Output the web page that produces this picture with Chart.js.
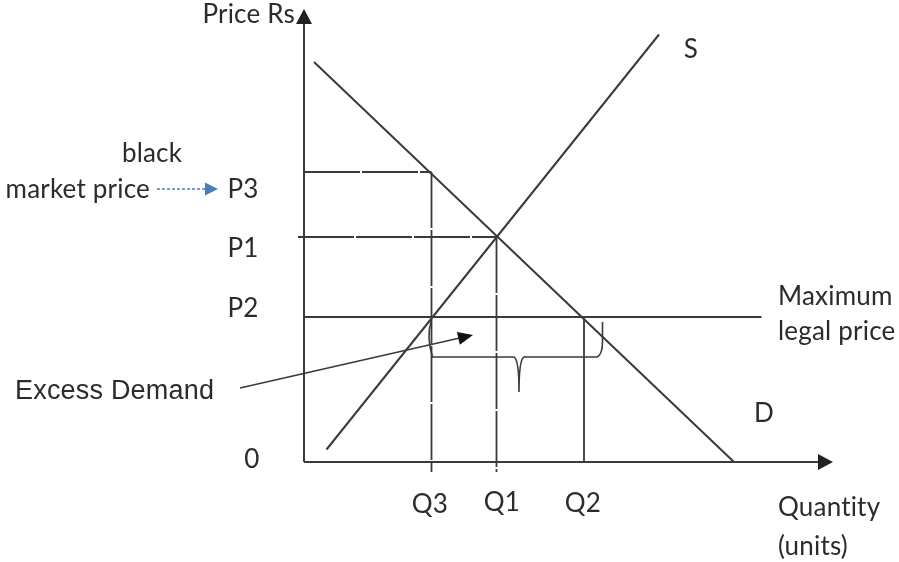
<!DOCTYPE html>
<html>
<head>
<meta charset="utf-8">
<script src="https://cdn.jsdelivr.net/npm/chart.js@4.4.0/dist/chart.umd.min.js"></script>
<style>
    html, body { margin: 0; padding: 0; background: #fff; }
</style>
</head>
<body>
<canvas id="chart" width="899" height="562"></canvas>
<script>
// Values (quantity and price in the same arbitrary units)
const demandQ = [2, 86];
const demandP = [80, 0];
const supplyQ = [4.5, 71];
const supplyP = [2.5, 85.5];
const quantityLevels = [25.5, 38.5, 56];   // Q3, Q1, Q2
const quantityTicks = ['Q3', 'Q1', 'Q2'];
const priceLevels = [58, 45, 29];          // P3, P1, P2
const priceTicks = ['P3', 'P1', 'P2'];
const ceilingEnd = 91.5;                   // maximum legal price line runs to here
const axisMax = { x: 105.8, y: 90.6 };

const [q3, q1, q2] = quantityLevels;
const [p3, p1, p2] = priceLevels;

const LINE = '#3a3a3a';
const TEXT = '#2b2b2b';
const BLUE = '#4a7ebb';
const FONT = '26px Lato';

const pts = (xs, ys) => xs.map((x, i) => ({ x: x, y: ys[i] }));

function lineSet(data, width, dash) {
    return {
        data: data,
        borderColor: LINE,
        borderWidth: width,
        borderDash: dash || [],
        pointRadius: 0,
        fill: false,
        tension: 0
    };
}

// Arrowheads, brace, pointer arrows and all labels
const notesPlugin = {
    id: 'notes',
    afterDatasetsDraw(chart) {
        const { ctx, scales: { x, y } } = chart;
        const px = v => x.getPixelForValue(v);
        const py = v => y.getPixelForValue(v);

        const head = (x0, y0, x1, y1, len, half, color) => {
            const a = Math.atan2(y1 - y0, x1 - x0);
            ctx.save();
            ctx.fillStyle = color;
            ctx.beginPath();
            ctx.moveTo(x1, y1);
            ctx.lineTo(x1 - len * Math.cos(a) + half * Math.sin(a), y1 - len * Math.sin(a) - half * Math.cos(a));
            ctx.lineTo(x1 - len * Math.cos(a) - half * Math.sin(a), y1 - len * Math.sin(a) + half * Math.cos(a));
            ctx.closePath();
            ctx.fill();
            ctx.restore();
        };

        // axis arrowheads
        head(px(0), py(0), px(0), py(axisMax.y), 15, 8, '#222');
        head(px(0), py(0), px(axisMax.x), py(0), 15, 8, '#222');

        // brace under the ceiling between Q3 and Q2
        ctx.save();
        ctx.strokeStyle = LINE;
        ctx.lineWidth = 1.6;
        ctx.beginPath();
        ctx.moveTo(px(q3), py(28.4));
        ctx.quadraticCurveTo(px(24.4), py(25), px(q3 + 0.2), py(21));
        ctx.lineTo(px(42), py(21));
        ctx.quadraticCurveTo(px(43), py(20.5), px(43), py(14));
        ctx.quadraticCurveTo(px(43), py(20.5), px(44), py(21));
        ctx.lineTo(px(58.6), py(21));
        ctx.quadraticCurveTo(px(59.7), py(21.5), px(59.7), py(24));
        ctx.lineTo(px(59.7), py(28));
        ctx.stroke();

        // excess demand pointer
        const ex0 = px(-12.8), ey0 = py(14.8), ex1 = px(33.8), ey1 = py(25.4);
        ctx.lineWidth = 1.6;
        ctx.beginPath();
        ctx.moveTo(ex0, ey0);
        ctx.lineTo(ex1 - 10, ey1 + 2.3);
        ctx.stroke();
        head(ex0, ey0, ex1, ey1, 15, 6.5, '#111');

        // blue dashed pointer to P3
        const bx0 = px(-29.4), bx1 = px(-17.2), by = py(54.6);
        ctx.strokeStyle = BLUE;
        ctx.lineWidth = 1.5;
        ctx.setLineDash([3, 2]);
        ctx.beginPath();
        ctx.moveTo(bx0, by);
        ctx.lineTo(bx1 - 10, by);
        ctx.stroke();
        ctx.setLineDash([]);
        head(bx0, by, bx1, by, 13, 6.5, BLUE);
        ctx.restore();

        // labels
        const text = (s, vx, vy, align, font) => {
            ctx.save();
            ctx.font = font || FONT;
            ctx.fillStyle = TEXT;
            ctx.textAlign = align;
            ctx.textBaseline = 'middle';
            ctx.letterSpacing = '0.2px';   // keeps Lato from joining "ti"
            ctx.fillText(s, px(vx), py(vy));
            ctx.restore();
        };
        text('Price Rs', -1.8, 89.4, 'right');
        text('black', -30.4, 61.6, 'center');
        text('market price', -30.8, 54.4, 'right');
        const priceLabelY = [54.4, 42.6, 30.6];
        priceTicks.forEach((t, i) => text(t, -15.3, priceLabelY[i], 'left'));
        text('0', -10.4, 0.4, 'center');
        const qLabelY = [-8.6, -8.2, -8.4];
        const qLabelX = [25.2, 39.6, 55.8];
        quantityTicks.forEach((t, i) => text(t, qLabelX[i], qLabelY[i], 'center'));
        text('S', 77.4, 82.4, 'center');
        text('D', 92, 9.6, 'center');
        text('Maximum', 94.8, 33, 'left');
        text('legal price', 94.8, 26, 'left');
        text('Quantity', 94.8, -9.2, 'left');
        text('(units)', 94.8, -17, 'left');
        text('Excess Demand', -57.8, 14, 'left', '27px "Liberation Sans"');
    }
};

const guideDash = [56, 2];

new Chart(document.getElementById('chart'), {
    type: 'scatter',
    data: {
        datasets: [
            lineSet(pts(demandQ, demandP), 2),
            lineSet(pts(supplyQ, supplyP), 2),
            lineSet([{ x: 0, y: p3 }, { x: q3, y: p3 }], 1.8, guideDash),
            lineSet([{ x: -1.2, y: p1 }, { x: q1, y: p1 }], 1.8, guideDash),
            lineSet([{ x: q3, y: p3 }, { x: q3, y: -2 }], 1.8, guideDash),
            lineSet([{ x: q1, y: p1 }, { x: q1, y: -2 }], 1.8, guideDash),
            lineSet([{ x: q2, y: p2 }, { x: q2, y: 0 }], 1.8),
            lineSet([{ x: 0, y: p2 }, { x: ceilingEnd, y: p2 }], 2),
            lineSet([{ x: 0, y: 0 }, { x: 0, y: axisMax.y - 3 }], 2),
            lineSet([{ x: 0, y: 0 }, { x: axisMax.x - 3, y: 0 }], 2)
        ]
    },
    options: {
        responsive: false,
        devicePixelRatio: 1,
        animation: false,
        showLine: true,
        layout: { padding: 0 },
        plugins: { legend: { display: false }, tooltip: { enabled: false } },
        scales: {
            x: { type: 'linear', min: -60.8, max: 119, display: false },
            y: { type: 'linear', min: -20, max: 92.4, display: false }
        }
    },
    plugins: [notesPlugin]
});
</script>
</body>
</html>
